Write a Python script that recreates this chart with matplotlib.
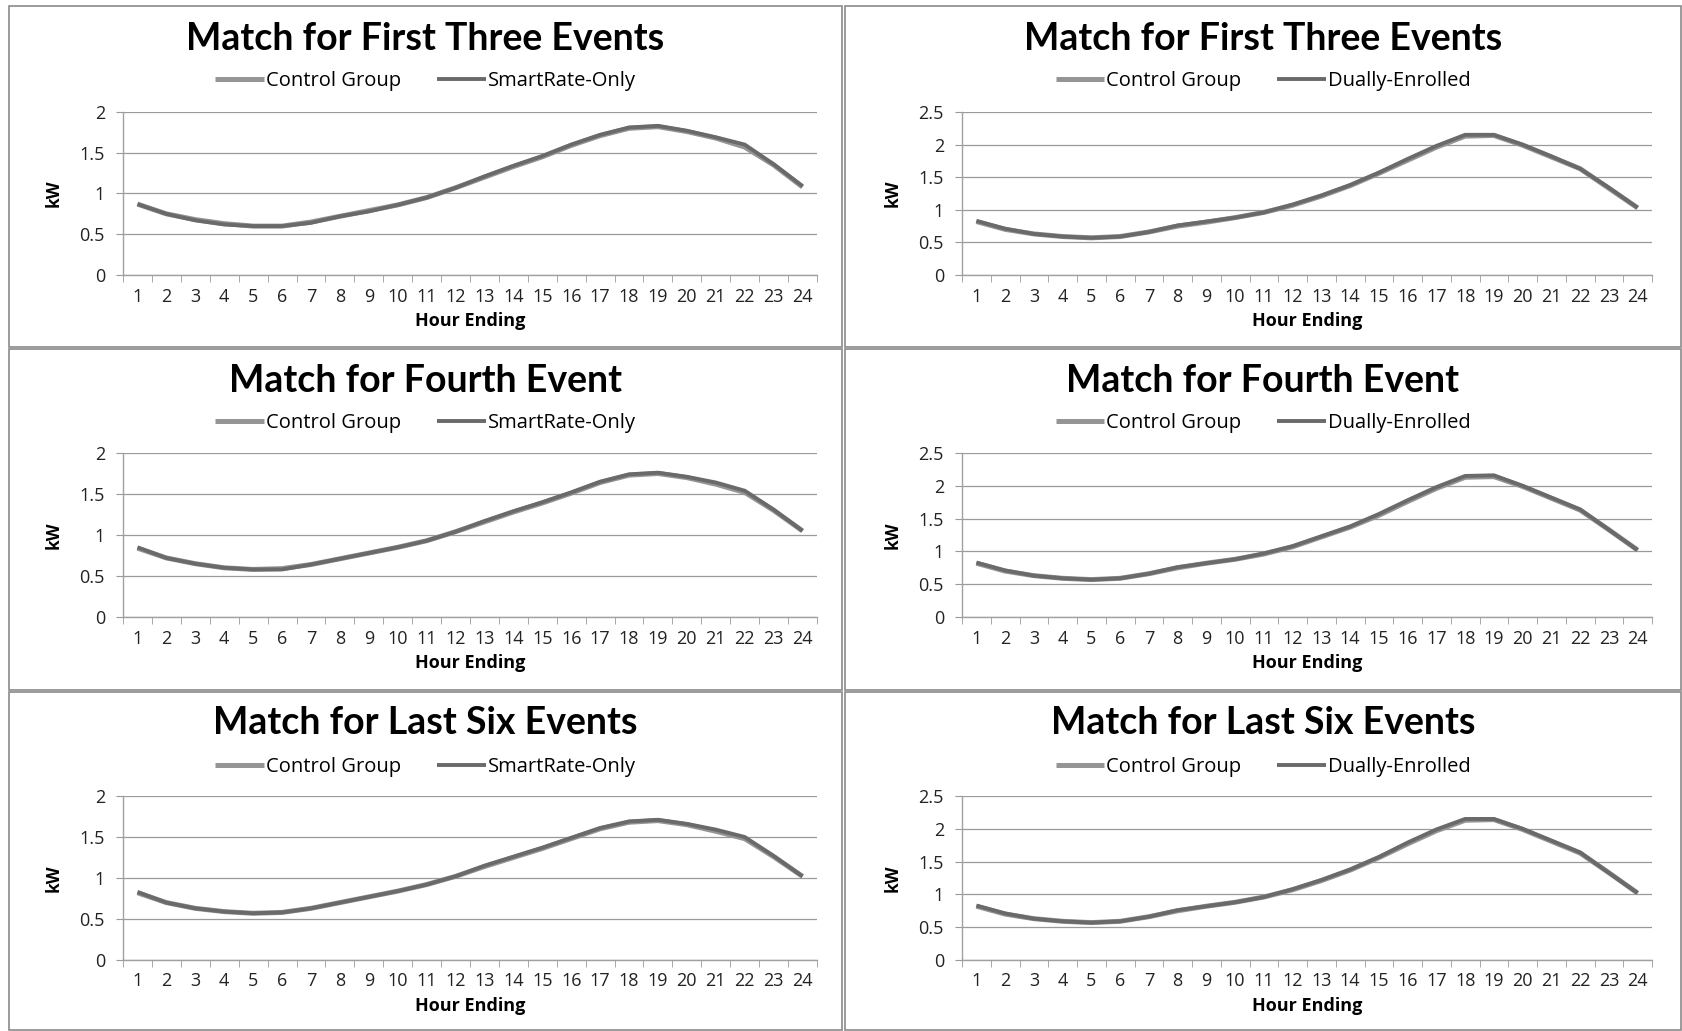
import matplotlib.pyplot as plt
from matplotlib.patches import Rectangle

W, H = 1682, 1031

hours = list(range(1, 25))
hour_labels = [str(h) for h in hours]

titles = ['Match for First Three Events', 'Match for Fourth Event', 'Match for Last Six Events']

# left column: Control Group vs SmartRate-Only
ctrl_left_1 = [0.87, 0.75, 0.68, 0.63, 0.60, 0.60, 0.65, 0.72, 0.79, 0.86, 0.95, 1.07,
               1.20, 1.33, 1.45, 1.59, 1.71, 1.80, 1.82, 1.76, 1.68, 1.57, 1.35, 1.08]
smart_1 = [0.87, 0.75, 0.67, 0.62, 0.60, 0.60, 0.64, 0.72, 0.78, 0.86, 0.95, 1.07,
           1.21, 1.34, 1.46, 1.60, 1.72, 1.81, 1.83, 1.77, 1.69, 1.60, 1.36, 1.09]
ctrl_left_2 = [0.84, 0.72, 0.65, 0.60, 0.58, 0.59, 0.64, 0.71, 0.78, 0.85, 0.93, 1.04,
               1.16, 1.28, 1.39, 1.51, 1.64, 1.73, 1.75, 1.70, 1.62, 1.52, 1.30, 1.05]
smart_2 = [0.85, 0.72, 0.65, 0.60, 0.58, 0.58, 0.64, 0.71, 0.78, 0.85, 0.93, 1.04,
           1.17, 1.29, 1.40, 1.52, 1.65, 1.74, 1.76, 1.71, 1.64, 1.54, 1.31, 1.05]
ctrl_left_3 = [0.82, 0.70, 0.63, 0.59, 0.57, 0.58, 0.63, 0.70, 0.77, 0.84, 0.92, 1.02,
               1.14, 1.25, 1.36, 1.48, 1.60, 1.68, 1.70, 1.65, 1.57, 1.48, 1.26, 1.02]
smart_3 = [0.83, 0.70, 0.63, 0.59, 0.57, 0.58, 0.63, 0.70, 0.77, 0.84, 0.92, 1.02,
           1.15, 1.26, 1.37, 1.49, 1.61, 1.69, 1.71, 1.66, 1.59, 1.50, 1.27, 1.02]

# right column: Control Group vs Dually-Enrolled
ctrl_right_1 = [0.82, 0.70, 0.63, 0.59, 0.57, 0.59, 0.66, 0.75, 0.81, 0.88, 0.96, 1.07,
                1.21, 1.37, 1.56, 1.76, 1.96, 2.13, 2.14, 1.99, 1.81, 1.63, 1.33, 1.03]
dual_1 = [0.83, 0.71, 0.63, 0.59, 0.57, 0.59, 0.66, 0.76, 0.82, 0.88, 0.96, 1.08,
          1.22, 1.38, 1.57, 1.78, 1.98, 2.15, 2.15, 2.00, 1.82, 1.63, 1.34, 1.03]
ctrl_right_2 = [0.82, 0.70, 0.63, 0.59, 0.57, 0.59, 0.66, 0.75, 0.82, 0.88, 0.96, 1.07,
                1.22, 1.37, 1.55, 1.76, 1.96, 2.13, 2.14, 1.99, 1.81, 1.63, 1.33, 1.02]
dual_2 = [0.83, 0.71, 0.63, 0.59, 0.57, 0.59, 0.66, 0.76, 0.82, 0.88, 0.97, 1.08,
          1.23, 1.38, 1.57, 1.78, 1.98, 2.15, 2.16, 2.00, 1.82, 1.64, 1.33, 1.02]
ctrl_right_3 = [0.82, 0.70, 0.63, 0.59, 0.57, 0.59, 0.66, 0.75, 0.82, 0.88, 0.96, 1.07,
                1.21, 1.37, 1.56, 1.77, 1.97, 2.13, 2.14, 1.99, 1.81, 1.63, 1.33, 1.02]
dual_3 = [0.83, 0.71, 0.63, 0.59, 0.57, 0.59, 0.66, 0.76, 0.82, 0.88, 0.96, 1.08,
          1.22, 1.38, 1.57, 1.79, 1.99, 2.15, 2.15, 2.00, 1.82, 1.64, 1.33, 1.02]

plt.rcParams['font.family'] = ['Open Sans', 'DejaVu Sans']

fig = plt.figure(figsize=(W / 100, H / 100), dpi=100)

# pixel geometry of the panels
col_x = [(123, 817), (962, 1652)]
col_box = [(9, 842), (845, 1681)]
row_y = [(112, 275), (453, 617), (796, 960)]
row_box = [(6, 347), (349, 690), (692, 1030)]
title_y = [39, 381, 723]
legend_y = [81, 423, 767]

left_data = [(ctrl_left_1, smart_1), (ctrl_left_2, smart_2), (ctrl_left_3, smart_3)]
right_data = [(ctrl_right_1, dual_1), (ctrl_right_2, dual_2), (ctrl_right_3, dual_3)]

for c in range(2):
    for r in range(3):
        x0, x1 = col_x[c]
        yt, yb = row_y[r]
        bx0, bx1 = col_box[c]
        byt, byb = row_box[r]
        cx = (bx0 + bx1) / 2 / W
        # panel frame
        fig.add_artist(Rectangle((bx0 / W, 1 - byb / H), (bx1 - bx0) / W, (byb - byt) / H,
                                 transform=fig.transFigure, fill=False,
                                 edgecolor='#8a8a8a', lw=1.2))

        ax = fig.add_axes([x0 / W, 1 - yb / H, (x1 - x0) / W, (yb - yt) / H])
        if c == 0:
            ctrl, other = left_data[r]
            other_name = 'SmartRate-Only'
            ymax = 2.0
        else:
            ctrl, other = right_data[r]
            other_name = 'Dually-Enrolled'
            ymax = 2.5

        ax.plot(hours, ctrl, color='#959595', lw=3.6, label='Control Group', solid_capstyle='butt')
        ax.plot(hours, other, color='#6a6a6a', lw=2.8, label=other_name, solid_capstyle='butt')

        nt = int(ymax / 0.5) + 1
        ax.set_xlim(0.5, 24.5)
        ax.set_ylim(0, ymax)
        ax.set_yticks([v * 0.5 for v in range(nt)])
        ax.set_yticklabels(['0', '0.5', '1', '1.5', '2', '2.5'][:nt])
        ax.set_xticks(hours)
        ax.set_xticklabels(hour_labels)
        ax.set_xticks([h + 0.5 for h in range(0, 25)], minor=True)
        ax.tick_params(axis='x', which='major', length=0, pad=9, labelsize=13, colors='#222222')
        ax.tick_params(axis='x', which='minor', length=5, direction='out', color='#999999')
        ax.tick_params(axis='y', length=5, direction='out', color='#999999', pad=8,
                       labelsize=13, colors='#222222')
        ax.grid(axis='y', color='#9a9a9a', lw=0.9)
        ax.set_axisbelow(True)
        for s in ['top', 'right']:
            ax.spines[s].set_visible(False)
        for s in ['left', 'bottom']:
            ax.spines[s].set_color('#a0a0a0')
            ax.spines[s].set_linewidth(1.0)

        ax.set_xlabel('Hour Ending', fontsize=13, fontweight='bold', labelpad=5)
        ax.set_ylabel('kW', fontsize=12.5, fontweight='bold', labelpad=12)
        fig.text(cx, 1 - title_y[r] / H, titles[r], ha='center', va='center',
                 fontsize=27, fontweight='bold', family=['Lato', 'DejaVu Sans'])
        ax.legend(loc='center', bbox_to_anchor=(cx, 1 - legend_y[r] / H),
                  bbox_transform=fig.transFigure, ncol=2, frameon=False,
                  fontsize=14.5, handlelength=2.4, handletextpad=0.1, columnspacing=1.8)

fig.savefig('out.png', dpi=100, facecolor='white')
